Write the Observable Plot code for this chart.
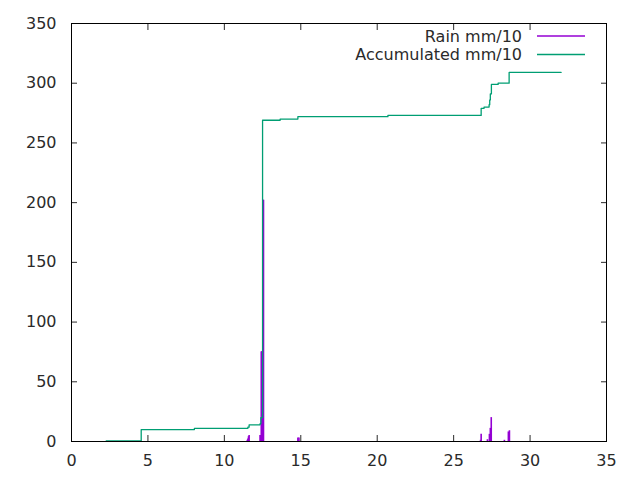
<!DOCTYPE html>
<html>
<head>
<meta charset="utf-8">
<script src="https://cdn.jsdelivr.net/npm/d3@7"></script>
<script src="https://cdn.jsdelivr.net/npm/@observablehq/plot@0.6"></script>
<style>
  html, body { margin: 0; padding: 0; background: #fff; }
  #wrap { position: relative; width: 640px; height: 480px; font-family: "DejaVu Sans", sans-serif; }
  #legend { position: absolute; left: 0; top: 0; pointer-events: none; }
</style>
</head>
<body>
<div id="wrap"></div>
<script>
// Rain impulses (day, mm/10)
const rainX = [11.50, 11.54, 11.58, 11.62, 12.34, 12.37, 12.40, 12.42, 12.44, 12.46, 12.48, 12.53, 12.56, 14.81, 14.88, 26.76, 26.80, 27.21, 27.34, 27.40, 27.46, 28.32, 28.58, 28.65];
const rainV = [1, 2, 4, 5, 5, 5, 5, 75, 75, 75, 20, 202, 202, 3, 3, 1, 6, 1.5, 6, 11, 20, 1, 8, 9];

// Accumulated (step-after)
const accX = [2.27, 4.56, 8.04, 11.54, 11.62, 12.34, 12.39, 12.50, 13.65, 14.81, 20.70, 26.80, 26.99, 27.32, 27.36, 27.40, 27.47, 27.91, 28.63, 32.03];
const accY = [0.5, 10, 11, 12, 14, 15, 20, 269, 270, 272, 273, 279, 280, 282, 286, 291, 299, 300, 309, 309];

const xTicks = [0, 5, 10, 15, 20, 25, 30, 35];
const yTicks = [0, 50, 100, 150, 200, 250, 300, 350];

const legendLabels = ["Rain mm/10", "Accumulated mm/10"];
const colors = ["#9400d3", "#009e73"];

const rain = rainX.map((x, i) => ({x, v: rainV[i]}));
const acc = accX.map((x, i) => ({x, y: accY[i]}));

const blank = () => "";
const plot = Plot.plot({
  width: 640,
  height: 480,
  marginLeft: 71,
  marginRight: 34,
  marginTop: 23,
  marginBottom: 39,
  style: {fontFamily: "DejaVu Sans, sans-serif", fontSize: "16px", color: "#2a2a2a", background: "#fff"},
  x: {domain: [0, 35], ticks: xTicks, label: null},
  y: {domain: [0, 350], ticks: yTicks, label: null},
  marks: [
    Plot.ruleX(rain, {x: "x", y1: 0, y2: "v", stroke: colors[0], strokeWidth: 1.6}),
    Plot.line(acc, {x: "x", y: "y", curve: "step-after", stroke: colors[1], strokeWidth: 1.3}),
    Plot.axisX({anchor: "bottom", ticks: xTicks, tickSize: 0, tickPadding: 13, label: null}),
    Plot.axisY({anchor: "left", ticks: yTicks, tickSize: 0, tickPadding: 15, label: null}),
    Plot.axisX({anchor: "bottom", ticks: xTicks, tickSize: -6, tickFormat: blank, label: null}),
    Plot.axisX({anchor: "top", ticks: xTicks, tickSize: -6, tickFormat: blank, label: null}),
    Plot.axisY({anchor: "left", ticks: yTicks, tickSize: -6, tickFormat: blank, label: null}),
    Plot.axisY({anchor: "right", ticks: yTicks, tickSize: -6, tickFormat: blank, label: null}),
    Plot.frame({stroke: "#000", strokeWidth: 1})
  ]
});
const wrap = document.getElementById("wrap");
wrap.appendChild(plot);

// Legend overlay
const ns = "http://www.w3.org/2000/svg";
const lg = document.createElementNS(ns, "svg");
lg.setAttribute("id", "legend");
lg.setAttribute("width", 640);
lg.setAttribute("height", 80);
legendLabels.forEach((lab, i) => {
  const cy = 36 + i * 18.5;
  const t = document.createElementNS(ns, "text");
  t.setAttribute("x", 522);
  t.setAttribute("y", cy);
  t.setAttribute("dy", "0.35em");
  t.setAttribute("text-anchor", "end");
  t.setAttribute("font-family", "DejaVu Sans, sans-serif");
  t.setAttribute("font-size", "16px");
  t.setAttribute("fill", "#2a2a2a");
  t.textContent = lab;
  lg.appendChild(t);
  const l = document.createElementNS(ns, "line");
  l.setAttribute("x1", 537);
  l.setAttribute("x2", 585);
  l.setAttribute("y1", cy);
  l.setAttribute("y2", cy);
  l.setAttribute("stroke", colors[i]);
  l.setAttribute("stroke-width", 1.3);
  lg.appendChild(l);
});
wrap.appendChild(lg);
</script>
</body>
</html>
